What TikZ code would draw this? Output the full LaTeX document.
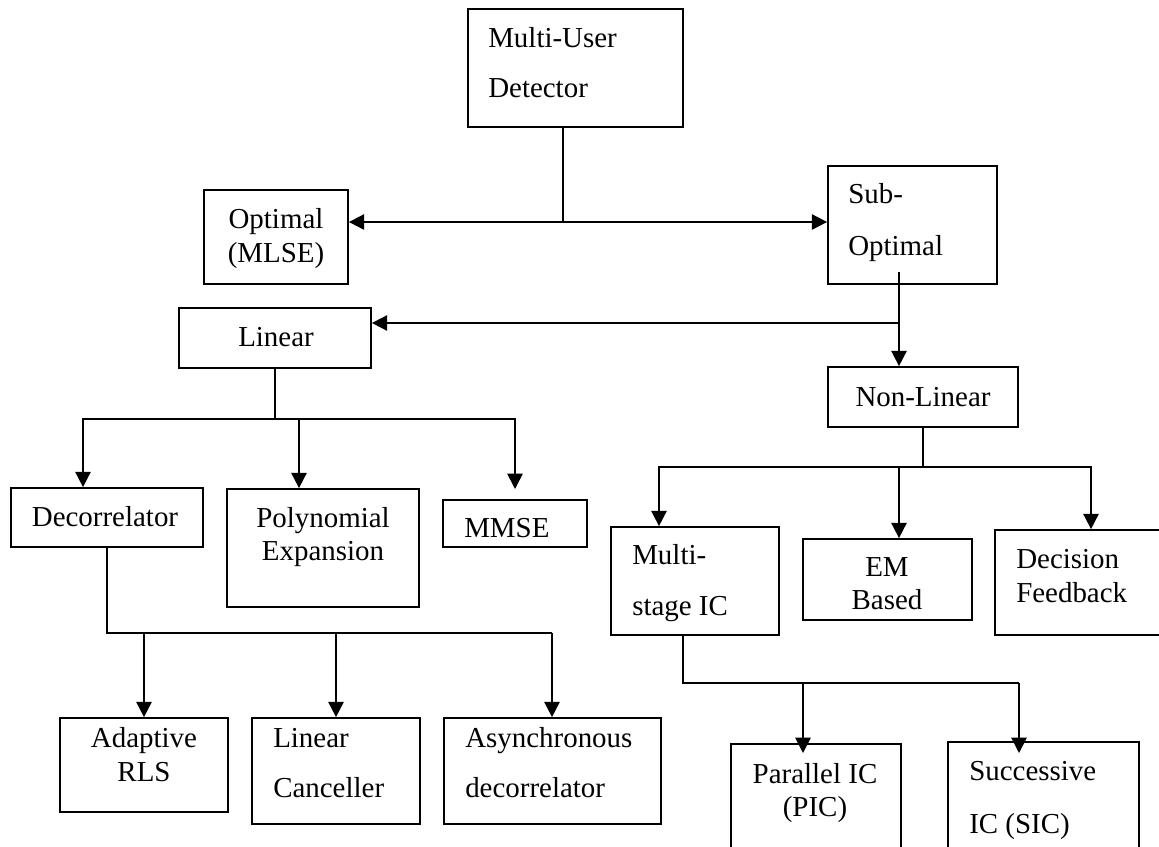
\documentclass[tikz,border=0pt]{standalone}
\usepackage{fontspec}
\setmainfont{Liberation Serif}
\usetikzlibrary{arrows.meta,fit}
\begin{document}
\begin{tikzpicture}[x=0.75pt,y=-0.75pt,
  box/.style={draw, line width=1.3pt, inner sep=0pt},
  txt/.style={inner sep=0pt, font=\fontsize{21.7}{26}\selectfont},
  link/.style={line width=1.3pt},
  arr/.style={line width=1.3pt, -{Triangle[length=11.5pt,width=11.5pt]}}]
\useasboundingbox (0,0) rectangle (1159,846);
\clip (0,0) rectangle (1159,846);

% ---- boxes ----
\node[box, fit={(468,9) (683,127)}]    (mud) {};
\node[box, fit={(204,190) (348,284)}]  (opt) {};
\node[box, fit={(828,166) (997,284)}]  (sub) {};
\node[box, fit={(179,308) (371,368)}]  (lin) {};
\node[box, fit={(828,367) (1018,427)}] (nonlin) {};
\node[box, fit={(11,488) (203,547)}]   (dec) {};
\node[box, fit={(227,489) (419,607)}]  (poly) {};
\node[box, fit={(443,500) (587,547)}]  (mmse) {};
\node[box, fit={(611,527) (779,635)}]  (msic) {};
\node[box, fit={(803,539) (972,620)}]  (em) {};
\node[box, fit={(995,530) (1185,635)}] (df) {};
\node[box, fit={(60,718) (228,812)}]   (adapt) {};
\node[box, fit={(252,718) (420,824)}]  (lcan) {};
\node[box, fit={(444,718) (661,824)}]  (async) {};
\node[box, fit={(731,744) (901,880)}]  (pic) {};
\node[box, fit={(948,742) (1139,880)}] (sic) {};

% ---- labels ----
\node[txt, anchor=base west] (mudA) at (488,47) {Multi-User};
\node[txt, anchor=base west] (mudB) at (488,97) {Detector};
\node[txt, anchor=base] (optA) at (276,228) {Optimal};
\node[txt, anchor=base] (optB) at (276,262) {(MLSE)};
\node[txt, anchor=base west] (subA) at (848,203) {Sub-};
\node[txt, anchor=base west] (subB) at (848,255) {Optimal};
\node[txt, anchor=base] (linA) at (276,346) {Linear};
\node[txt, anchor=base] (nonlinA) at (923,406) {Non-Linear};
\node[txt, anchor=base] (decA) at (105,526) {Decorrelator};
\node[txt, anchor=base] (polyA) at (323,527) {Polynomial};
\node[txt, anchor=base] (polyB) at (323,560) {Expansion};
\node[txt, anchor=base west] (mmseA) at (464,537) {MMSE};
\node[txt, anchor=base west] (msicA) at (632,564) {Multi-};
\node[txt, anchor=base west] (msicB) at (632,615) {stage IC};
\node[txt, anchor=base] (emA) at (887,576) {EM};
\node[txt, anchor=base] (emB) at (887,609) {Based};
\node[txt, anchor=base west] (dfA) at (1016,568) {Decision};
\node[txt, anchor=base west] (dfB) at (1016,602) {Feedback};
\node[txt, anchor=base] (adaptA) at (144,747) {Adaptive};
\node[txt, anchor=base] (adaptB) at (144,781) {RLS};
\node[txt, anchor=base west] (lcanA) at (273,747) {Linear};
\node[txt, anchor=base west] (lcanB) at (273,797) {Canceller};
\node[txt, anchor=base west] (asyncA) at (465,747) {Asynchronous};
\node[txt, anchor=base west] (asyncB) at (465,797) {decorrelator};
\node[txt, anchor=base] (picA) at (815,783) {Parallel IC};
\node[txt, anchor=base] (picB) at (815,816) {(PIC)};
\node[txt, anchor=base west] (sicA) at (969,780) {Successive};
\node[txt, anchor=base west] (sicB) at (969,833) {IC (SIC)};

% ---- junction points ----
\coordinate (j1) at (563,222);
\coordinate (s0) at (899,272);
\coordinate (j2) at (899,323);
\coordinate (j3) at (275,419);
\coordinate (a1) at (83,419);
\coordinate (b1) at (299,419);
\coordinate (c1) at (515,419);
\coordinate (c2) at (515,489);
\coordinate (j4) at (923,467);
\coordinate (d1) at (659,467);
\coordinate (e1) at (899,467);
\coordinate (f1) at (1091,467);
\coordinate (j5) at (107,633);
\coordinate (g1) at (144,633);
\coordinate (h1) at (336,633);
\coordinate (k1) at (552,633);
\coordinate (j6) at (683,683);
\coordinate (m1) at (803,683);
\coordinate (m2) at (803,753);
\coordinate (n1) at (1019,683);
\coordinate (n2) at (1019,753);

% ---- connectors ----
\draw[link] (mud.south -| j1) -- (j1);
\draw[arr] (j1) -- (j1 -| opt.east);
\draw[arr] (j1) -- (j1 -| sub.west);

\draw[arr] (s0) -- (s0 |- nonlin.north);
\draw[arr] (j2) -- (j2 -| lin.east);

\draw[link] (lin.south -| j3) -- (j3);
\draw[arr] (j3) -- (a1) -- (a1 |- dec.north);
\draw[arr] (b1) -- (b1 |- poly.north);
\draw[arr] (j3) -- (c1) -- (c2);

\draw[link] (nonlin.south -| j4) -- (j4);
\draw[arr] (j4) -- (d1) -- (d1 |- msic.north);
\draw[arr] (e1) -- (e1 |- em.north);
\draw[arr] (j4) -- (f1) -- (f1 |- df.north);

\draw[link] (dec.south -| j5) -- (j5) -- (k1);
\draw[arr] (g1) -- (g1 |- adapt.north);
\draw[arr] (h1) -- (h1 |- lcan.north);
\draw[arr] (k1) -- (k1 |- async.north);

\draw[link] (msic.south -| j6) -- (j6) -- (n1);
\draw[arr] (m1) -- (m2);
\draw[arr] (n1) -- (n2);
\end{tikzpicture}
\end{document}
